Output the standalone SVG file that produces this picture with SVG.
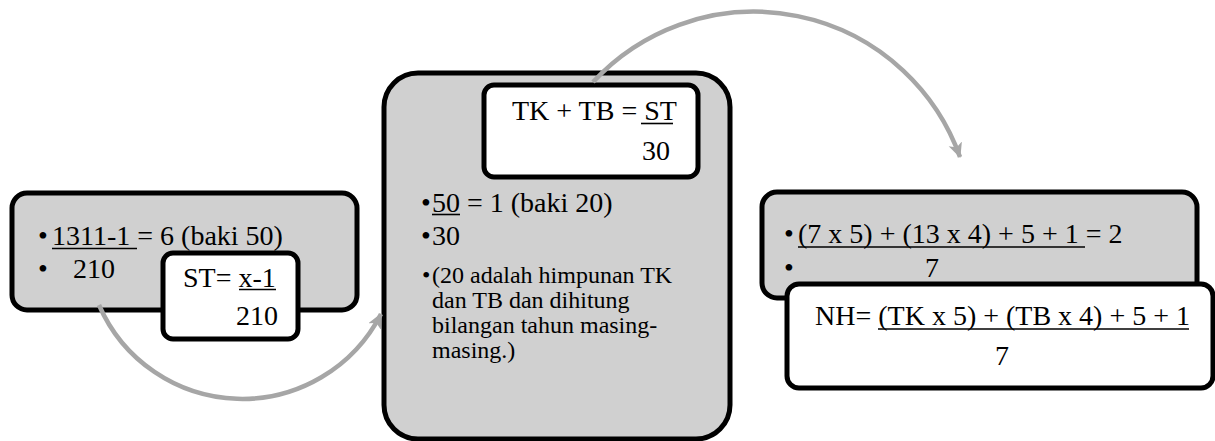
<svg xmlns="http://www.w3.org/2000/svg" width="1215" height="441" viewBox="0 0 1215 441">
<defs>
<style>
.box{fill:#D0D0D0;stroke:#000;stroke-width:5}
.wbox{fill:#FFFFFF;stroke:#000;stroke-width:5}
text{font-family:'Liberation Serif','Times New Roman','DejaVu Serif',serif;font-size:28px;fill:#000}
text.s{font-size:24px}
.ul{stroke:#000;stroke-width:1.6}
.conn{fill:none;stroke:#A6A6A6;stroke-width:4.5}
</style>
<marker id="ah" markerUnits="userSpaceOnUse" markerWidth="18" markerHeight="18" refX="14" refY="7" orient="auto">
<path d="M0,0 L15,7 L0,14 L4,7 Z" fill="#A6A6A6"/>
</marker>
</defs>
<rect width="1215" height="441" fill="#FFFFFF"/>

<g id="node-left">
<rect class="box" x="12" y="193" width="345" height="117" rx="15"/>
<text x="38" y="245">•</text>
<text x="52" y="245">1311-1 = 6 (baki 50)</text>
<line class="ul" x1="52" y1="248.5" x2="137" y2="248.5"/>
<text x="38" y="278">•</text>
<text x="73" y="278">210</text>
</g>

<g id="node-st">
<rect class="wbox" x="163" y="253" width="135" height="86" rx="10"/>
<text x="183" y="287">ST= x-1</text>
<line class="ul" x1="239" y1="289.5" x2="276" y2="289.5"/>
<text x="236" y="325">210</text>
</g>

<g id="node-center">
<rect class="box" x="384" y="73" width="346" height="366" rx="34"/>
<text x="421" y="212">•</text>
<text x="432" y="212">50 = 1 (baki 20)</text>
<line class="ul" x1="432" y1="214.5" x2="460" y2="214.5"/>
<text x="421" y="245">•</text>
<text x="432" y="245">30</text>
<text class="s" x="422" y="283">•</text>
<text class="s" x="432" y="283">(20 adalah himpunan TK</text>
<text class="s" x="432" y="308">dan TB dan dihitung</text>
<text class="s" x="432" y="333">bilangan tahun masing-</text>
<text class="s" x="432" y="358">masing.)</text>
</g>

<g id="node-tk">
<rect class="wbox" x="484" y="85" width="214" height="92" rx="10"/>
<text x="512" y="120">TK + TB = ST</text>
<line class="ul" x1="641" y1="123.5" x2="673" y2="123.5"/>
<text x="642" y="160">30</text>
</g>

<g id="node-right">
<rect class="box" x="762" y="192" width="435" height="106" rx="15"/>
<text x="784" y="243">•</text>
<text x="798" y="243">(7 x 5) + (13 x 4) + 5 + 1 = 2</text>
<line class="ul" x1="798" y1="247" x2="1085" y2="247"/>
<text x="784" y="277">•</text>
<text x="925" y="277">7</text>
</g>

<g id="node-nh">
<rect class="wbox" x="787" y="284" width="426" height="104" rx="12"/>
<text x="815" y="325">NH= (TK x 5) + (TB x 4) + 5 + 1</text>
<line class="ul" x1="878" y1="329" x2="1189" y2="329"/>
<text x="995" y="365">7</text>
</g>

<g id="connectors">
<path class="conn" d="M99,305 A156,156 0 0,0 381,314" marker-end="url(#ah)"/>
<path class="conn" d="M593,82 A219,219 0 0,1 960,157" marker-end="url(#ah)"/>
</g>
</svg>
